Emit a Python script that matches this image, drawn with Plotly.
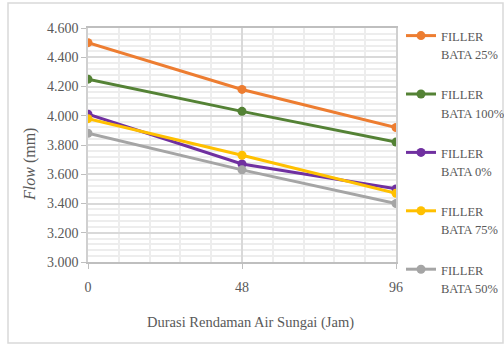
import plotly.graph_objects as go

# Soaking duration (hours) and measured flow for each brick-filler mix
durasi = [0, 48, 96]
series_labels = [
    ("FILLER", "BATA 25%"),
    ("FILLER", "BATA 100%"),
    ("FILLER", "BATA 0%"),
    ("FILLER", "BATA 75%"),
    ("FILLER", "BATA 50%"),
]
flow_25 = [4.50, 4.18, 3.92]
flow_100 = [4.25, 4.03, 3.82]
flow_0 = [4.01, 3.67, 3.50]
flow_75 = [3.98, 3.73, 3.47]
flow_50 = [3.88, 3.63, 3.40]
colors = ["#ED7D31", "#548235", "#7030A0", "#FFC000", "#A5A5A5"]

y_ticks = [3.0, 3.2, 3.4, 3.6, 3.8, 4.0, 4.2, 4.4, 4.6]

FONT = "Liberation Serif, Times New Roman, serif"
TICK_COLOR = "#595959"
LEGEND_TEXT_PX = 12.5


def legend_name(lines):
    # Small text on a larger base font gives the roomy two-line spacing
    return "<br>".join(
        f"<span style='font-size:{LEGEND_TEXT_PX}px'>{ln}</span>" for ln in lines
    )


fig = go.Figure()
for i, (lines, vals) in enumerate(
    zip(series_labels, [flow_25, flow_100, flow_0, flow_75, flow_50])
):
    fig.add_trace(
        go.Scatter(
            x=durasi,
            y=vals,
            name=legend_name(lines),
            mode="lines+markers",
            line=dict(color=colors[i], width=3),
            marker=dict(color=colors[i], size=9),
            legendgroup=f"g{i}",
        )
    )

W, H = 504, 346
ML, MR, MT, MB = 88, 108, 28, 84
pw, ph = W - ML - MR, H - MT - MB


def px_x(p):
    return (p - ML) / pw


def px_y(p):
    return 1 - (p - MT) / ph


fig.update_layout(
    width=W,
    height=H,
    margin=dict(l=ML, r=MR, t=MT, b=MB, autoexpand=False),
    paper_bgcolor="white",
    plot_bgcolor="white",
    font=dict(family=FONT, color=TICK_COLOR, size=14),
    showlegend=True,
    legend=dict(
        x=px_x(401),
        y=px_y(20),
        xanchor="left",
        yanchor="top",
        valign="top",
        font=dict(family=FONT, size=14, color=TICK_COLOR),
        tracegroupgap=19,
        itemwidth=30,
        maxheight=340,
        bgcolor="rgba(0,0,0,0)",
    ),
    xaxis=dict(
        range=[0, 96],
        tickvals=durasi,
        ticktext=[str(v) for v in durasi],
        ticks="outside",
        ticklen=5,
        tickcolor="#BFBFBF",
        ticklabelstandoff=6,
        showline=True,
        linecolor="#BFBFBF",
        linewidth=1.5,
        mirror=True,
        showgrid=True,
        gridcolor="#D9D9D9",
        gridwidth=1.5,
        zeroline=False,
        minor=dict(dtick=9.6, tick0=0, showgrid=True, gridcolor="#EDEDED", gridwidth=1.5),
        tickfont=dict(family=FONT, size=14, color=TICK_COLOR),
    ),
    yaxis=dict(
        range=[3.0, 4.6],
        tickvals=y_ticks,
        tickformat=".3f",
        ticks="outside",
        ticklen=5,
        tickcolor="#BFBFBF",
        showline=True,
        linecolor="#D0D0D0",
        linewidth=1.5,
        mirror=True,
        showgrid=True,
        gridcolor="#D9D9D9",
        gridwidth=1.5,
        zeroline=False,
        minor=dict(dtick=0.04, tick0=3.0, showgrid=True, gridcolor="#EDEDED", gridwidth=1.5),
        tickfont=dict(family=FONT, size=14, color=TICK_COLOR),
    ),
)

# Axis titles
fig.add_annotation(
    text="Durasi Rendaman Air Sungai (Jam)",
    xref="paper", yref="paper",
    x=px_x(250), y=px_y(322),
    xanchor="center", yanchor="middle",
    showarrow=False,
    font=dict(family=FONT, size=14.5, color=TICK_COLOR),
)
fig.add_annotation(
    text="<i>Flow</i> (mm)",
    xref="paper", yref="paper",
    x=px_x(30), y=px_y(165),
    xanchor="center", yanchor="middle",
    textangle=-90,
    showarrow=False,
    font=dict(family=FONT, size=16, color=TICK_COLOR),
)

# Outer chart frame
fig.add_shape(
    type="rect",
    xref="paper",
    yref="paper",
    x0=px_x(8),
    x1=px_x(503),
    y0=px_y(343),
    y1=px_y(3),
    line=dict(color="#D9D9D9", width=1.5),
    layer="below",
)

fig.write_html("out.html")
